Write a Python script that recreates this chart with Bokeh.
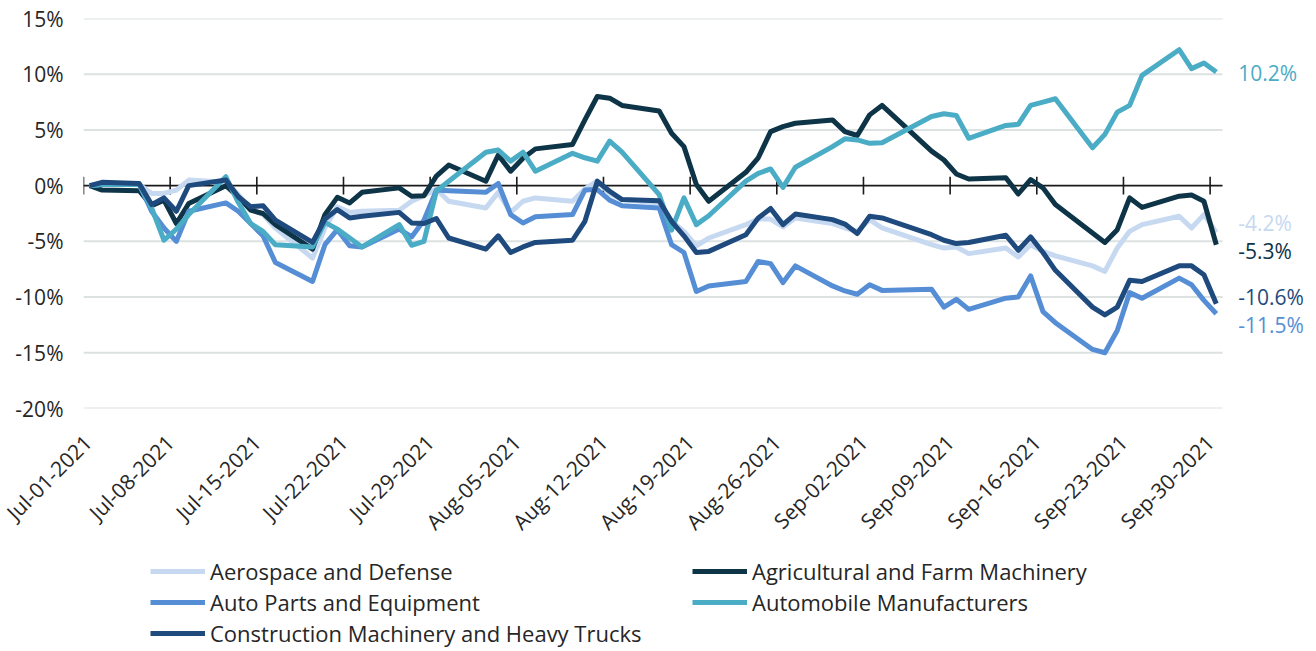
import datetime as dt
from bokeh.plotting import figure
from bokeh.layouts import column
from bokeh.models import (Range1d, FixedTicker, DatetimeTickFormatter, Legend,
                          LegendItem, Label, PrintfTickFormatter, ColumnDataSource)
from bokeh.embed import file_html
from bokeh.resources import INLINE

# ---------------- data ----------------
dates = ["2021-07-01", "2021-07-02", "2021-07-05", "2021-07-06", "2021-07-07", "2021-07-08", "2021-07-09",
         "2021-07-12", "2021-07-13", "2021-07-14", "2021-07-15", "2021-07-16",
         "2021-07-19", "2021-07-20", "2021-07-21", "2021-07-22", "2021-07-23",
         "2021-07-26", "2021-07-27", "2021-07-28", "2021-07-29", "2021-07-30",
         "2021-08-02", "2021-08-03", "2021-08-04", "2021-08-05", "2021-08-06",
         "2021-08-09", "2021-08-10", "2021-08-11", "2021-08-12", "2021-08-13",
         "2021-08-16", "2021-08-17", "2021-08-18", "2021-08-19", "2021-08-20",
         "2021-08-23", "2021-08-24", "2021-08-25", "2021-08-26", "2021-08-27",
         "2021-08-30", "2021-08-31", "2021-09-01", "2021-09-02", "2021-09-03",
         "2021-09-07", "2021-09-08", "2021-09-09", "2021-09-10",
         "2021-09-13", "2021-09-14", "2021-09-15", "2021-09-16", "2021-09-17",
         "2021-09-20", "2021-09-21", "2021-09-22", "2021-09-23", "2021-09-24",
         "2021-09-27", "2021-09-28", "2021-09-29", "2021-09-30"]

aerospace = [0, 0.1, 0.1, -0.7, -0.7, -0.4, 0.5,
             0.3, -0.8, -2.1, -2.6, -3.8,
             -6.5, -3.8, -1.9, -2.4, -2.3,
             -2.2, -1.4, -0.9, -0.3, -1.4,
             -2.0, -0.6, -2.4, -1.4, -1.1,
             -1.4, -0.3, 0.4, -0.7, -1.25,
             -1.55, -3.2, -4.1, -5.4, -4.7,
             -3.5, -3.0, -3.0, -3.7, -2.9,
             -3.4, -3.8, -4.1, -3.05, -3.8,
             -5.3, -5.6, -5.5, -6.1,
             -5.6, -6.4, -5.3, -5.9, -6.3,
             -7.2, -7.7, -5.6, -4.1, -3.5,
             -2.75, -3.8, -2.6, -4.2]

agricultural = [0, -0.4, -0.45, -1.8, -1.3, -3.4, -1.6,
                0.0, -1.0, -2.2, -2.5, -3.5,
                -5.7, -2.6, -1.05, -1.55, -0.6,
                -0.2, -0.95, -0.9, 0.85, 1.85,
                0.4, 2.75, 1.3, 2.45, 3.3,
                3.7, 5.9, 8.0, 7.85, 7.2,
                6.7, 4.7, 3.5, 0.1, -1.4,
                1.2, 2.5, 4.85, 5.3, 5.6,
                5.9, 4.85, 4.5, 6.35, 7.2,
                3.1, 2.3, 1.05, 0.6,
                0.7, -0.75, 0.55, -0.2, -1.7,
                -4.25, -5.1, -3.95, -1.1, -1.95,
                -0.95, -0.85, -1.4, -5.3]

auto_parts = [0, 0.1, 0.1, -2.3, -3.8, -5.0, -2.3,
              -1.55, -2.3, -3.4, -4.5, -6.9,
              -8.6, -5.3, -3.95, -5.4, -5.5,
              -3.9, -4.6, -3.1, -0.4, -0.45,
              -0.6, 0.2, -2.6, -3.35, -2.8,
              -2.6, -0.4, -0.35, -1.3, -1.8,
              -2.0, -5.3, -6.0, -9.5, -9.0,
              -8.6, -6.8, -7.0, -8.7, -7.2,
              -9.0, -9.45, -9.75, -8.9, -9.4,
              -9.3, -10.9, -10.2, -11.1,
              -10.1, -10.0, -8.1, -11.3, -12.3,
              -14.7, -15.0, -13.0, -9.6, -10.1,
              -8.3, -8.9, -10.3, -11.5]

automobile = [0, 0.1, 0.1, -2.0, -4.9, -3.9, -2.6,
              0.8, -1.5, -3.4, -4.1, -5.3,
              -5.5, -3.3, -3.9, -4.7, -5.5,
              -3.5, -5.35, -5.0, -0.5, 0.4,
              3.0, 3.2, 2.2, 3.0, 1.3,
              2.9, 2.5, 2.2, 4.0, 3.0,
              -0.8, -4.0, -1.1, -3.5, -2.7,
              0.4, 1.1, 1.5, -0.15, 1.65,
              3.5, 4.2, 4.1, 3.8, 3.85,
              6.2, 6.45, 6.3, 4.25,
              5.4, 5.5, 7.2, 7.5, 7.8,
              3.4, 4.6, 6.6, 7.2, 9.9,
              12.2, 10.5, 11.0, 10.2]

construction = [0, 0.3, 0.2, -1.7, -1.1, -2.3, 0.0,
                0.5, -1.0, -1.9, -1.8, -3.1,
                -5.1, -3.0, -2.15, -2.9, -2.75,
                -2.4, -3.35, -3.4, -2.95, -4.7,
                -5.7, -4.5, -6.0, -5.5, -5.1,
                -4.9, -3.2, 0.4, -0.5, -1.25,
                -1.35, -3.2, -4.5, -6.0, -5.9,
                -4.4, -2.9, -2.05, -3.5, -2.55,
                -3.05, -3.45, -4.3, -2.75, -2.9,
                -4.4, -4.9, -5.2, -5.1,
                -4.45, -5.8, -4.6, -6.0, -7.6,
                -10.9, -11.6, -10.9, -8.5, -8.6,
                -7.2, -7.2, -8.0, -10.6]

series_names = ["Aerospace and Defense", "Agricultural and Farm Machinery",
                "Auto Parts and Equipment", "Automobile Manufacturers",
                "Construction Machinery and Heavy Trucks"]
series_values = [aerospace, agricultural, auto_parts, automobile, construction]
series_colors = ["#c6d9f1", "#0d3447", "#558ed5", "#4bacc6", "#1f4a7e"]

end_labels = ["-4.2%", "-5.3%", "-11.5%", "10.2%", "-10.6%"]
# small vertical nudges (in % units) to keep end labels apart
end_label_nudge = [0.85, -0.6, -1.0, -0.1, 0.6]

tick_dates = ["2021-07-01", "2021-07-08", "2021-07-15", "2021-07-22", "2021-07-29",
              "2021-08-05", "2021-08-12", "2021-08-19", "2021-08-26", "2021-09-02",
              "2021-09-09", "2021-09-16", "2021-09-23", "2021-09-30"]
y_ticks = [-20, -15, -10, -5, 0, 5, 10, 15]

# ---------------- helpers ----------------
EPOCH = dt.datetime(1970, 1, 1)


def ms(d):
    return (d - EPOCH).total_seconds() * 1000.0


def parse(s):
    return dt.datetime.strptime(s, "%Y-%m-%d")


HALF_DAY = dt.timedelta(hours=12)
x_pts = [parse(d) + HALF_DAY for d in dates]
tick_ms = [ms(parse(d)) for d in tick_dates]
axis_start = parse(dates[0])
axis_end = parse(dates[-1]) + dt.timedelta(days=1)

FONT = "Open Sans"
TXT = "#262626"

# geometry: the date axis spans 1139 px; the frame continues to the right edge
AXIS_PX = 1139
FRAME_W = 1233
span_days = (axis_end - axis_start).total_seconds() / 86400.0
range_end = axis_start + dt.timedelta(days=span_days * FRAME_W / AXIS_PX)

p = figure(width=1316, height=545, frame_width=FRAME_W, frame_height=390,
           x_axis_type="datetime", output_backend="svg", toolbar_location=None,
           x_range=Range1d(ms(axis_start), ms(range_end)),
           y_range=Range1d(-20, 15),
           min_border_left=83, min_border_right=0, min_border_top=18, min_border_bottom=137)
p.outline_line_color = None
p.background_fill_color = "white"
p.border_fill_color = "white"
p.grid.visible = False

# y axis
p.yaxis.ticker = FixedTicker(ticks=y_ticks)
p.yaxis.formatter = PrintfTickFormatter(format="%d%%")
p.yaxis.axis_line_color = None
p.yaxis.major_tick_line_color = None
p.yaxis.minor_tick_line_color = None
p.yaxis.major_tick_out = 0
p.yaxis.major_tick_in = 0
p.yaxis.major_label_standoff = 20
p.yaxis.major_label_text_font = FONT
p.yaxis.major_label_text_font_size = "21px"
p.yaxis.major_label_text_color = TXT

# x axis
p.xaxis.ticker = FixedTicker(ticks=tick_ms)
fmt = "%b-%d-%Y"
p.xaxis.formatter = DatetimeTickFormatter(days=fmt, months=fmt, years=fmt, hours=fmt,
                                          minutes=fmt, seconds=fmt, milliseconds=fmt,
                                          minsec=fmt, hourmin=fmt)
p.xaxis.axis_line_color = None
p.xaxis.major_tick_line_color = None
p.xaxis.minor_tick_line_color = None
p.xaxis.major_tick_out = 0
p.xaxis.major_tick_in = 0
p.xaxis.major_label_orientation = 0.785398
p.xaxis.major_label_standoff = 30
p.xaxis.major_label_text_font = FONT
p.xaxis.major_label_text_font_size = "21px"
p.xaxis.major_label_text_color = TXT

# horizontal gridlines over the date span only
grid_y = [t for t in y_ticks if t != 0]
p.segment(x0=[axis_start] * len(grid_y), x1=[axis_end] * len(grid_y), y0=grid_y, y1=grid_y,
          line_color="#dce2e2", line_width=2)

# zero line with weekly tick marks
p.segment(x0=[axis_start], x1=[axis_end], y0=[0], y1=[0], line_color="#1a1a1a", line_width=1.6)
tick_x = [parse(d) for d in tick_dates]
p.segment(x0=tick_x, x1=tick_x, y0=[-0.8] * len(tick_x), y1=[0.8] * len(tick_x),
          line_color="#1a1a1a", line_width=1.6)

# series
for vals, col in zip(series_values, series_colors):
    src = ColumnDataSource(dict(x=x_pts, y=vals))
    p.line("x", "y", source=src, line_color=col, line_width=5, line_join="round")

# end labels
for vals, lab, nudge, col in zip(series_values, end_labels, end_label_nudge, series_colors):
    p.add_layout(Label(x=x_pts[-1], y=vals[-1] + nudge, x_offset=22, text=lab,
                       text_color=col, text_font=FONT, text_font_size="21px",
                       text_baseline="middle", text_align="left"))

# ---------------- legend strip ----------------
lg = figure(width=1316, height=106, frame_width=FRAME_W, frame_height=106,
            output_backend="svg", toolbar_location=None,
            x_range=Range1d(0, 1), y_range=Range1d(0, 1),
            x_axis_location=None, y_axis_location=None,
            min_border_left=83, min_border_right=0, min_border_top=0, min_border_bottom=0)
lg.grid.visible = False
lg.outline_line_color = None
nan = float("nan")
items = []
for name, col in zip(series_names, series_colors):
    r = lg.line(x=[nan, nan], y=[nan, nan], line_color=col, line_width=5)
    items.append(LegendItem(label=name, renderers=[r]))

legend = Legend(items=items, orientation="horizontal", nrows=3, location=(67, 6),
                glyph_width=55, glyph_height=22, label_standoff=5, label_width=481,
                label_height=22, spacing=1, padding=0, margin=0,
                label_text_font=FONT, label_text_font_size="22px", label_text_color=TXT,
                border_line_color=None, background_fill_alpha=0)
lg.add_layout(legend, "center")

layout = column(p, lg, spacing=0)
open("out.html", "w").write(file_html(layout, INLINE))
